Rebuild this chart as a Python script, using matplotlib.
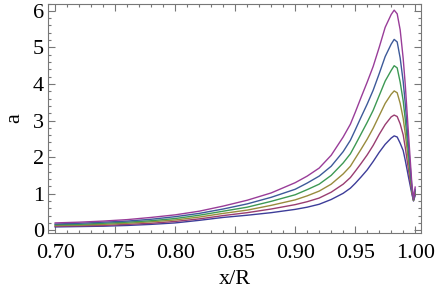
import matplotlib
matplotlib.use("Agg")
import matplotlib.pyplot as plt
from matplotlib.ticker import MultipleLocator

# x/R positions
x_R = [0.700, 0.720, 0.740, 0.760, 0.780, 0.800, 0.820, 0.840, 0.860, 0.880,
       0.900, 0.910, 0.920, 0.930, 0.940, 0.946, 0.950, 0.955, 0.960, 0.965,
       0.970, 0.975, 0.980, 0.9825, 0.985, 0.9875, 0.990, 0.9917, 0.9944,
       0.9972, 0.9986, 1.000]

# six curves, lowest peak first
a1 = [0.09, 0.10, 0.11, 0.13, 0.16, 0.20, 0.27, 0.35, 0.41, 0.48,
      0.57, 0.63, 0.71, 0.84, 1.01, 1.15, 1.28, 1.46, 1.65, 1.88,
      2.13, 2.35, 2.52, 2.58, 2.55, 2.38, 2.18, 1.92, 1.46, 1.00, 0.80, 0.95]
a2 = [0.11, 0.12, 0.13, 0.16, 0.19, 0.24, 0.31, 0.40, 0.48, 0.58,
      0.70, 0.78, 0.88, 1.04, 1.26, 1.44, 1.61, 1.83, 2.06, 2.32,
      2.62, 2.89, 3.10, 3.15, 3.11, 2.91, 2.61, 2.27, 1.66, 1.05, 0.81, 1.00]
a3 = [0.13, 0.14, 0.16, 0.19, 0.23, 0.28, 0.36, 0.46, 0.55, 0.68,
      0.83, 0.94, 1.07, 1.26, 1.54, 1.75, 1.96, 2.22, 2.49, 2.79,
      3.13, 3.47, 3.72, 3.81, 3.76, 3.47, 3.06, 2.65, 1.88, 1.10, 0.82, 1.05]
a4 = [0.15, 0.16, 0.19, 0.22, 0.26, 0.32, 0.41, 0.52, 0.63, 0.79,
      0.97, 1.11, 1.26, 1.50, 1.84, 2.09, 2.33, 2.64, 2.95, 3.28,
      3.68, 4.08, 4.37, 4.50, 4.44, 4.05, 3.54, 3.04, 2.10, 1.15, 0.83, 1.08]
a5 = [0.17, 0.19, 0.22, 0.25, 0.30, 0.37, 0.46, 0.58, 0.72, 0.90,
      1.12, 1.29, 1.48, 1.75, 2.15, 2.46, 2.74, 3.10, 3.45, 3.83,
      4.28, 4.75, 5.09, 5.22, 5.15, 4.71, 4.07, 3.48, 2.35, 1.21, 0.84, 1.12]
a6 = [0.20, 0.22, 0.25, 0.29, 0.35, 0.42, 0.52, 0.66, 0.82, 1.02,
      1.30, 1.48, 1.70, 2.05, 2.55, 2.90, 3.22, 3.64, 4.05, 4.48,
      5.00, 5.55, 5.90, 6.02, 5.92, 5.48, 4.70, 4.00, 2.65, 1.28, 0.85, 1.18]

curves = [a1, a2, a3, a4, a5, a6]
# Mathematica 7 default plot colours
colors = [(0.24, 0.24, 0.6), (0.6, 0.24, 0.442), (0.6, 0.547, 0.24),
          (0.24, 0.6, 0.33), (0.24, 0.353, 0.6), (0.6, 0.24, 0.6)]

plt.rcParams['font.family'] = ['Liberation Serif', 'DejaVu Serif']

fig = plt.figure(figsize=(4.36, 2.97), dpi=100)
ax = fig.add_axes([0.110, 0.215, 0.856, 0.773])

for y, c in zip(curves, colors):
    ax.plot(x_R, y, color=c, lw=1.0)

ax.set_xlim(0.694, 1.005)
ax.set_ylim(-0.08, 6.2)

ax.xaxis.set_major_locator(MultipleLocator(0.05))
ax.xaxis.set_minor_locator(MultipleLocator(0.01))
ax.yaxis.set_major_locator(MultipleLocator(1))
ax.yaxis.set_minor_locator(MultipleLocator(0.2))
ax.xaxis.set_major_formatter(plt.FuncFormatter(lambda v, p: "%.2f" % v))

ax.tick_params(which='both', direction='in', top=True, right=True,
               color='#777777', labelsize=16, width=0.8)
ax.tick_params(which='major', length=5)
ax.tick_params(which='minor', length=2.5)
ax.tick_params(axis='x', which='major', pad=8)
ax.tick_params(axis='y', which='major', pad=3)
for s in ax.spines.values():
    s.set_color('#777777')
    s.set_linewidth(0.8)

ax.set_xlabel('x/R', fontsize=16, labelpad=5)
ax.set_ylabel('a', fontsize=16, labelpad=6)

fig.savefig('out.png', dpi=100)
